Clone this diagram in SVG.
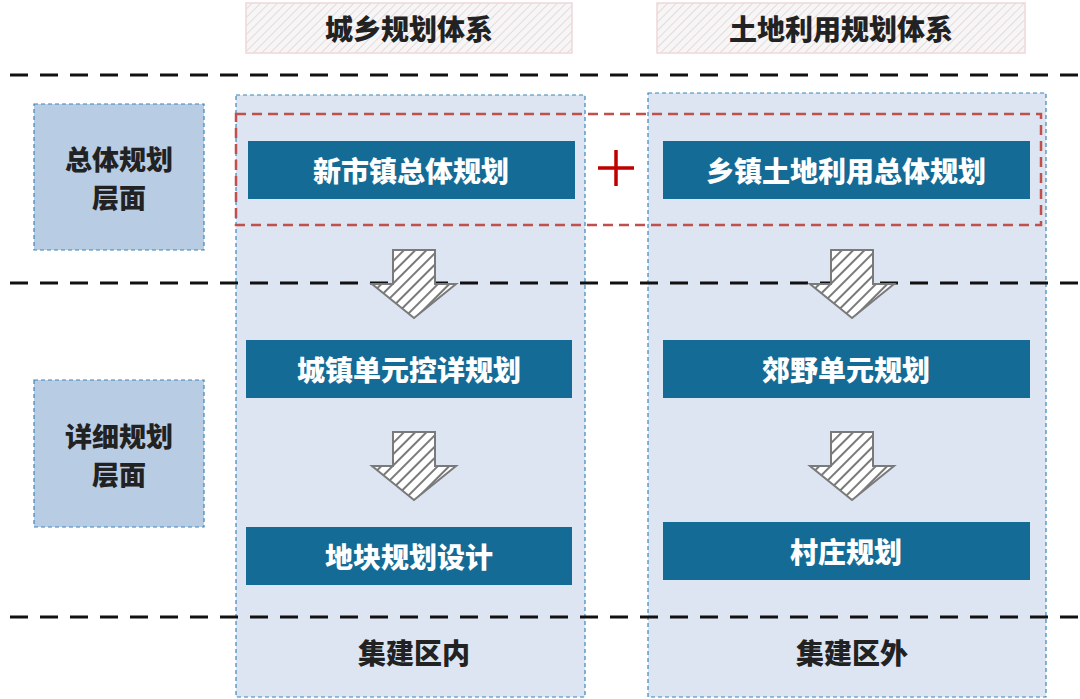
<svg xmlns="http://www.w3.org/2000/svg" width="1080" height="699" viewBox="0 0 1080 699">
<defs>
<pattern id="hh" width="6" height="6" patternUnits="userSpaceOnUse" patternTransform="rotate(45)"><rect width="6" height="6" fill="#f7f5f5"/><line x1="0" y1="0" x2="0" y2="6" stroke="#e2dcdc" stroke-width="2"/></pattern>
<pattern id="ah" width="8" height="8" patternUnits="userSpaceOnUse" patternTransform="rotate(45)"><rect width="8" height="8" fill="#fff"/><line x1="0" y1="0" x2="0" y2="8" stroke="#7a7a7a" stroke-width="4"/></pattern>
<path id="arr" d="M-21,0 H21 V34 H42 L0,68 L-42,34 H-21 Z" fill="url(#ah)" stroke="#7a7a7a" stroke-width="2" stroke-linejoin="miter"/>
</defs>
<style>
.hdr{fill:url(#hh);stroke:#f0d8d8;stroke-width:1.5}
.col{fill:#dce5f1;stroke:#3a86b8;stroke-width:1.2;stroke-dasharray:4 3}
.lvl{fill:#b8cce4;stroke:#3a86b8;stroke-width:1.2;stroke-dasharray:4 3}
.nb{fill:#136b96}
.sep{stroke:#111;stroke-width:3;stroke-dasharray:18 12}
text{font-family:"Noto Sans CJK SC",sans-serif;font-weight:900;text-anchor:middle;dominant-baseline:central}
.w{fill:#fff;font-size:28px}
.k{fill:#222;font-size:28px}
.l{fill:#222;font-size:27px}
</style>
<rect width="1080" height="699" fill="#fff"/>
<g id="hdr1"><rect class="hdr" x="246" y="3" width="326" height="50"/><text class="k" x="409" y="28">城乡规划体系</text></g>
<g id="hdr2"><rect class="hdr" x="657" y="3" width="368" height="50"/><text class="k" x="841" y="28">土地利用规划体系</text></g>
<g id="col1"><rect class="col" x="236" y="95" width="349" height="602"/><text class="k" x="414" y="652">集建区内</text></g>
<g id="col2"><rect class="col" x="648" y="93" width="398" height="604"/><text class="k" x="852" y="652">集建区外</text></g>
<g id="lvl1"><rect class="lvl" x="34" y="104" width="170" height="146"/><text class="l" x="119" y="158">总体规划</text><text class="l" x="119" y="196">层面</text></g>
<g id="lvl2"><rect class="lvl" x="34" y="380" width="170" height="147"/><text class="l" x="119" y="435">详细规划</text><text class="l" x="119" y="473">层面</text></g>
<g id="seps"><line class="sep" x1="10" y1="75" x2="1080" y2="75"/><line class="sep" x1="10" y1="283" x2="1080" y2="283"/><line class="sep" x1="10" y1="617" x2="1080" y2="617"/></g>
<g id="n1"><rect class="nb" x="248" y="141" width="327" height="58"/><text class="w" x="411" y="170">新市镇总体规划</text></g>
<g id="n2"><rect class="nb" x="663" y="141" width="367" height="58"/><text class="w" x="846" y="170">乡镇土地利用总体规划</text></g>
<g id="n3"><rect class="nb" x="246" y="340" width="326" height="58"/><text class="w" x="409" y="369">城镇单元控详规划</text></g>
<g id="n4"><rect class="nb" x="663" y="340" width="367" height="58"/><text class="w" x="846" y="369">郊野单元规划</text></g>
<g id="n5"><rect class="nb" x="246" y="527" width="326" height="58"/><text class="w" x="409" y="556">地块规划设计</text></g>
<g id="n6"><rect class="nb" x="663" y="522" width="367" height="58"/><text class="w" x="846" y="551">村庄规划</text></g>
<g id="combo"><rect x="236" y="114" width="805" height="111" fill="none" stroke="#c0504d" stroke-width="2.5" stroke-dasharray="10 6"/><path d="M598,168 H634 M616,150 V186" stroke="#c00000" stroke-width="3.5"/></g>
<g id="connectors">
<use href="#arr" x="414" y="250"/><use href="#arr" x="414" y="432"/>
<use href="#arr" x="852" y="250"/><use href="#arr" x="852" y="432"/>
</g>
</svg>
